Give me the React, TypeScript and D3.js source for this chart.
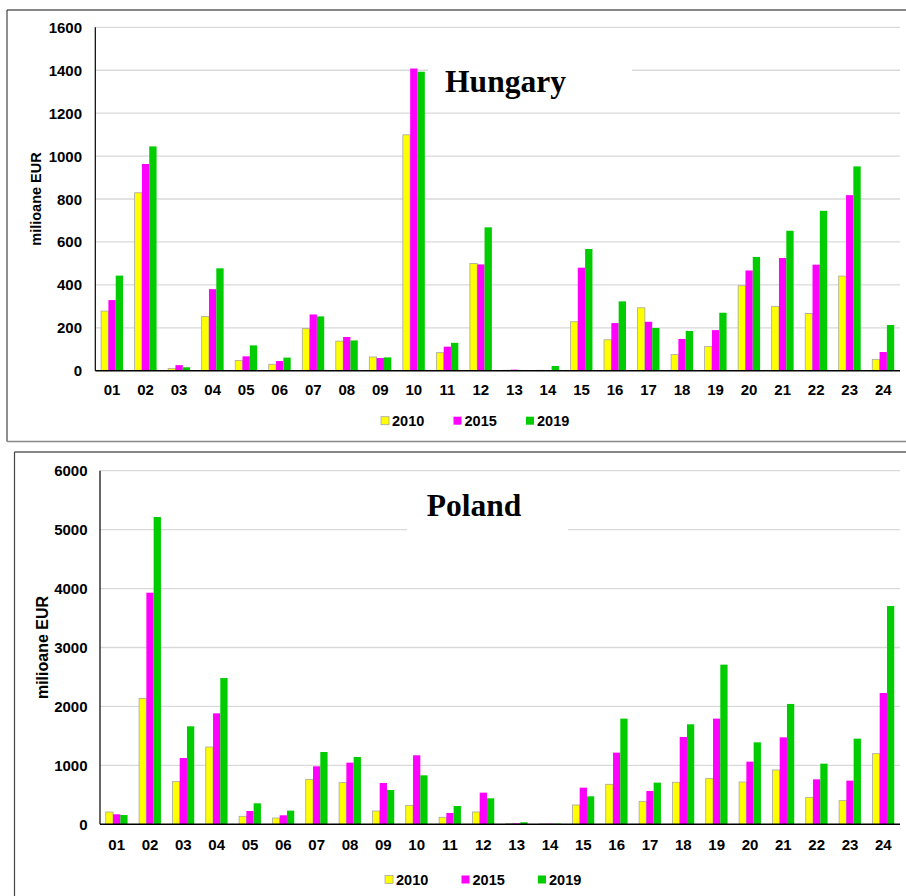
import * as d3 from "d3";

// categories (CPA divisions) and the three years shown
const categories = [
  "01", "02", "03", "04", "05", "06", "07", "08", "09", "10", "11", "12",
  "13", "14", "15", "16", "17", "18", "19", "20", "21", "22", "23", "24",
];
const years = ["2010", "2015", "2019"];
const colors = ["#ffff00", "#ff00ff", "#00cc00"];

// Hungary, milioane EUR
const hu2010 = [278, 829, 10, 252, 48, 30, 196, 138, 64, 1099, 84, 500, 2, 2, 228, 144, 293, 75, 113, 396, 300, 267, 441, 53];
const hu2015 = [329, 963, 26, 380, 67, 45, 262, 157, 59, 1408, 112, 495, 5, 3, 480, 222, 228, 148, 189, 467, 525, 494, 818, 87];
const hu2019 = [443, 1045, 16, 477, 118, 61, 253, 141, 62, 1393, 130, 668, 3, 22, 567, 323, 199, 185, 270, 530, 652, 745, 952, 213];
const huTicks = [0, 200, 400, 600, 800, 1000, 1200, 1400, 1600];

// Poland, milioane EUR
const pl2010 = [209, 2138, 724, 1312, 136, 107, 763, 707, 226, 322, 119, 209, 11, 6, 328, 679, 390, 713, 780, 718, 922, 458, 402, 1199];
const pl2015 = [170, 3930, 1125, 1883, 226, 153, 984, 1046, 701, 1171, 192, 537, 17, 11, 622, 1216, 566, 1482, 1793, 1063, 1476, 763, 741, 2228];
const pl2019 = [158, 5214, 1663, 2483, 356, 232, 1227, 1142, 582, 831, 311, 441, 34, 11, 475, 1793, 707, 1697, 2709, 1391, 2042, 1029, 1453, 3704];
const plTicks = [0, 1000, 2000, 3000, 4000, 5000, 6000];

const SANS = "'Liberation Sans', Arial, sans-serif";
const SERIF = "'Liberation Serif', 'Times New Roman', serif";

interface Layout {
  frameLeft: number;
  frameTop: number;
  frameBottom?: number;
  left: number;
  right: number;
  top: number;
  bottom: number;
  yLabelX: number;
  axisTitleX: number;
  axisTitleSize: number;
  xLabelY: number;
  titleX: number;
  titleY: number;
  titleBox: [number, number, number, number];
  legendX: number;
  legendStep: number;
  legendY: number;
}

const Panel = ({
  title,
  series,
  ticks,
  layout,
}: {
  title: string;
  series: number[][];
  ticks: number[];
  layout: Layout;
}) => {
  const L = layout;
  const x = d3.scaleBand().domain(categories).range([L.left, L.right]);
  const inner = d3
    .scaleBand()
    .domain(years)
    .range([0, x.bandwidth()])
    .paddingInner(0)
    .paddingOuter(0.79);
  const y = d3
    .scaleLinear()
    .domain([0, ticks[ticks.length - 1]])
    .range([L.bottom, L.top]);
  const [bx, by, bw, bh] = L.titleBox;

  return (
    <g>
      {/* frame */}
      <line x1={L.frameLeft} x2={906} y1={L.frameTop} y2={L.frameTop} stroke="#111" strokeWidth={1.2} />
      <line
        x1={L.frameLeft}
        x2={L.frameLeft}
        y1={L.frameTop}
        y2={L.frameBottom ?? 896}
        stroke="#444"
        strokeWidth={1.2}
      />
      {L.frameBottom && (
        <line x1={L.frameLeft} x2={906} y1={L.frameBottom} y2={L.frameBottom} stroke="#888" strokeWidth={1.5} />
      )}

      {/* grid */}
      {ticks.slice(1).map((t) => (
        <line key={t} x1={L.left} x2={L.right} y1={y(t)} y2={y(t)} stroke="#d9d9d9" strokeWidth={1.3} />
      ))}
      <rect x={bx} y={by} width={bw} height={bh} fill="white" />

      {/* bars */}
      {series.map((vals, si) =>
        vals.map((v, i) => (
          <rect
            key={`${si}-${i}`}
            x={(x(categories[i]) ?? 0) + (inner(years[si]) ?? 0)}
            y={y(v)}
            width={inner.bandwidth()}
            height={L.bottom - y(v)}
            fill={colors[si]}
            stroke={si === 0 ? "#a6a6a6" : "none"}
            strokeWidth={0.8}
          />
        ))
      )}

      {/* axes */}
      <line x1={L.left} x2={L.left} y1={L.top} y2={L.bottom} stroke="#000" strokeWidth={1.2} />
      <line x1={L.left} x2={L.right} y1={L.bottom} y2={L.bottom} stroke="#000" strokeWidth={1.5} />

      {ticks.map((t) => (
        <text
          key={t}
          x={L.yLabelX}
          y={y(t)}
          textAnchor="end"
          dominantBaseline="central"
          fontFamily={SANS}
          fontWeight="bold"
          fontSize={15}
        >
          {t}
        </text>
      ))}
      {categories.map((c) => (
        <text
          key={c}
          x={(x(c) ?? 0) + x.bandwidth() / 2}
          y={L.xLabelY}
          textAnchor="middle"
          dominantBaseline="central"
          fontFamily={SANS}
          fontWeight="bold"
          fontSize={15}
        >
          {c}
        </text>
      ))}
      <text
        transform={`translate(${L.axisTitleX},${(L.top + L.bottom) / 2}) rotate(-90)`}
        textAnchor="middle"
        dominantBaseline="central"
        fontFamily={SANS}
        fontWeight="bold"
        fontSize={L.axisTitleSize}
      >
        milioane EUR
      </text>

      {/* title */}
      <text x={L.titleX} y={L.titleY} textAnchor="middle" fontFamily={SERIF} fontWeight="bold" fontSize={31.5}>
        {title}
      </text>

      {/* legend */}
      {years.map((yr, i) => {
        const lx = L.legendX + i * L.legendStep;
        return (
          <g key={yr}>
            <rect
              x={lx}
              y={L.legendY - 4}
              width={8}
              height={8}
              fill={colors[i]}
              stroke={i === 0 ? "#a6a6a6" : "none"}
              strokeWidth={0.8}
            />
            <text
              x={lx + 11}
              y={L.legendY}
              dominantBaseline="central"
              fontFamily={SANS}
              fontWeight="bold"
              fontSize={14.5}
            >
              {yr}
            </text>
          </g>
        );
      })}
    </g>
  );
};

const huLayout: Layout = {
  frameLeft: 7,
  frameTop: 10,
  frameBottom: 441.5,
  left: 95.3,
  right: 900,
  top: 27.3,
  bottom: 370.7,
  yLabelX: 82,
  axisTitleX: 36,
  axisTitleSize: 14.5,
  xLabelY: 389,
  titleX: 505.5,
  titleY: 92,
  titleBox: [428, 45, 204, 58],
  legendX: 381,
  legendStep: 72.5,
  legendY: 420.7,
};

const plLayout: Layout = {
  frameLeft: 14.5,
  frameTop: 452,
  left: 100,
  right: 900,
  top: 470.7,
  bottom: 824.3,
  yLabelX: 87.5,
  axisTitleX: 42.5,
  axisTitleSize: 16,
  xLabelY: 844.5,
  titleX: 474,
  titleY: 516,
  titleBox: [407, 485, 161, 55],
  legendX: 385,
  legendStep: 76.5,
  legendY: 879.5,
};

export default function App() {
  return (
    <div style={{ position: "absolute", left: 0, top: 0, background: "white" }}>
      <svg width={906} height={896} viewBox="0 0 906 896" style={{ display: "block" }}>
        <rect width={906} height={896} fill="white" />
        <Panel title="Hungary" series={[hu2010, hu2015, hu2019]} ticks={huTicks} layout={huLayout} />
        <Panel title="Poland" series={[pl2010, pl2015, pl2019]} ticks={plTicks} layout={plLayout} />
      </svg>
    </div>
  );
}
